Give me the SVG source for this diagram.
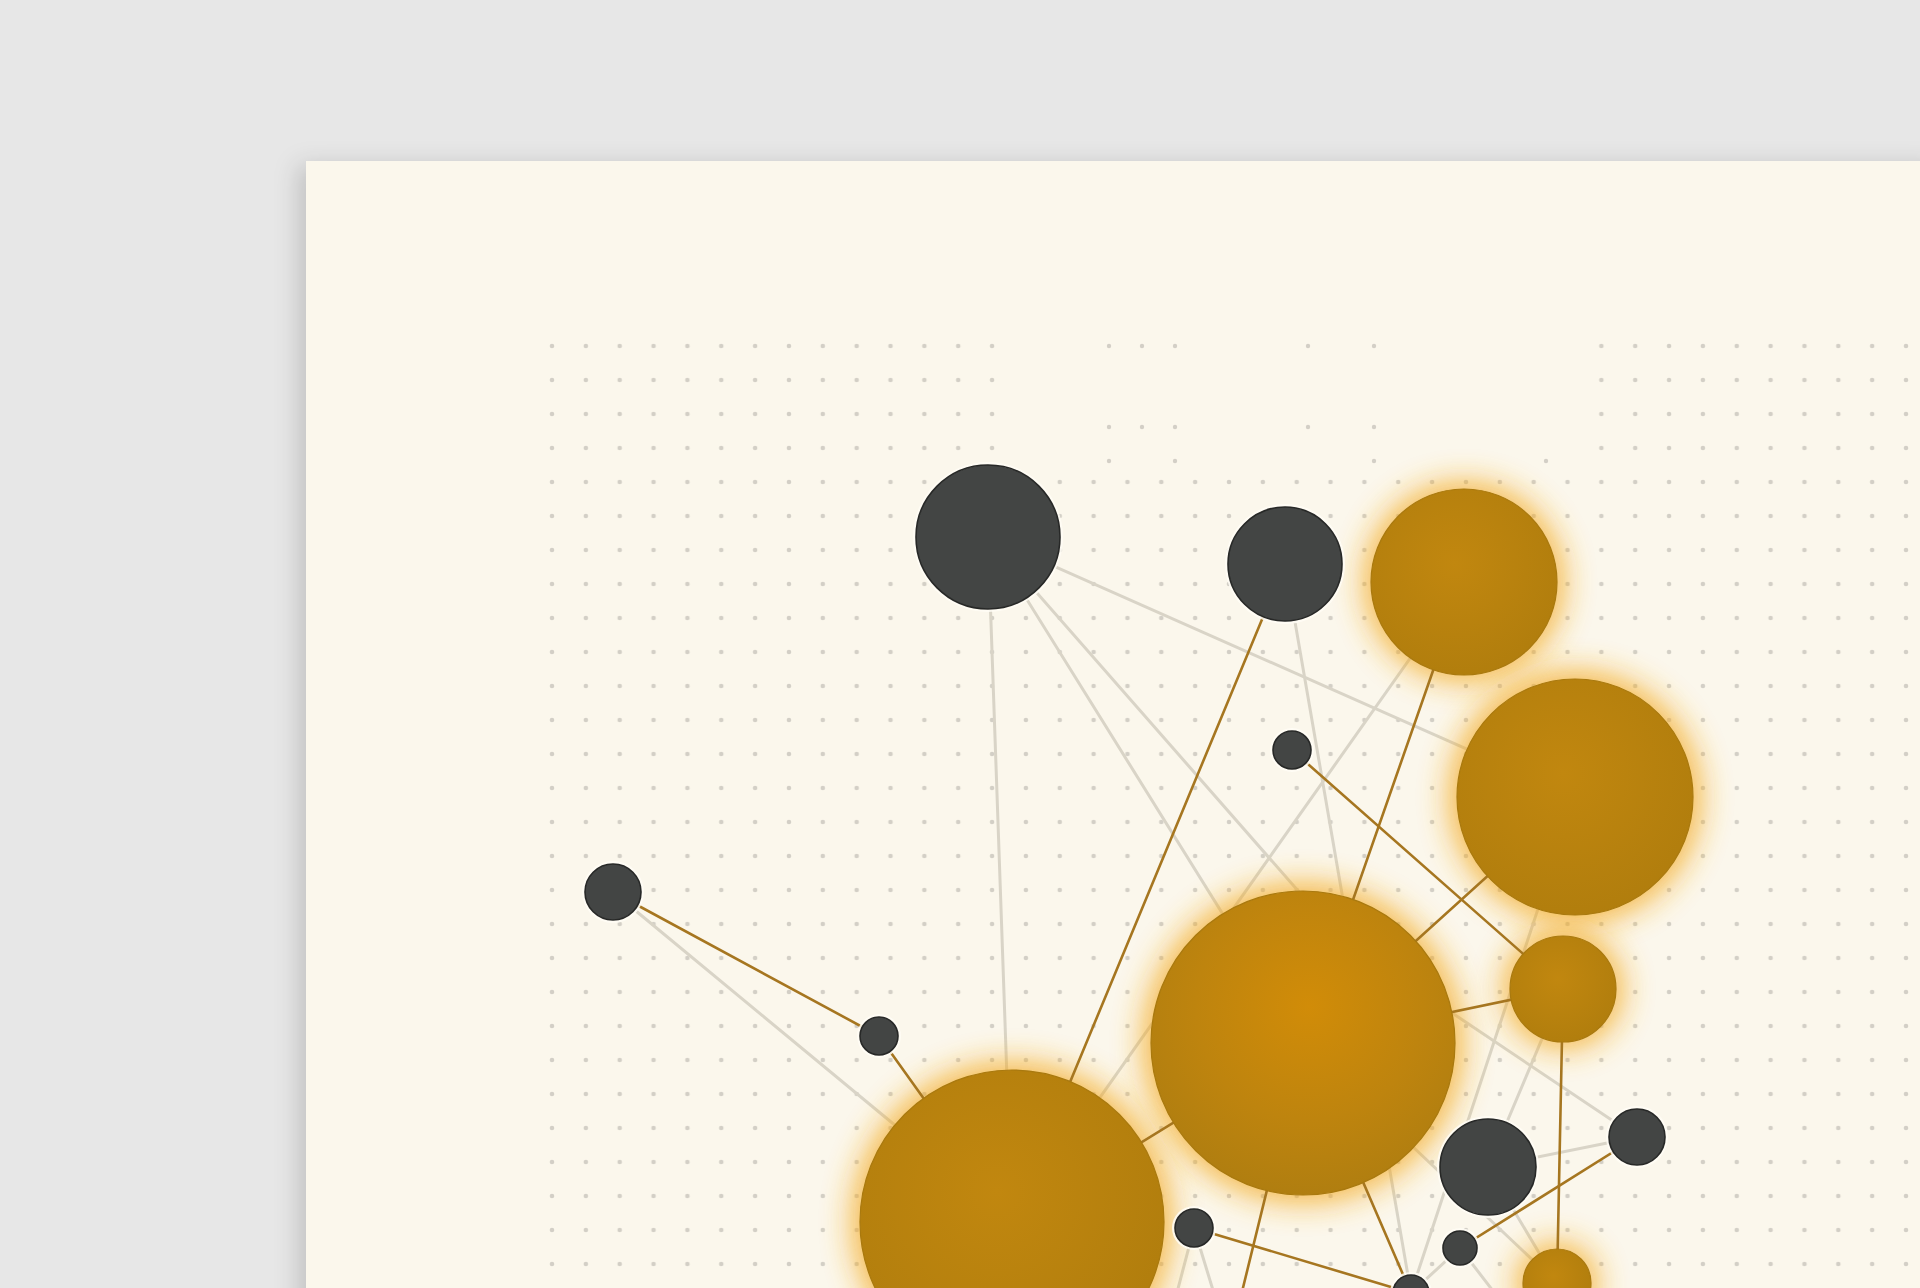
<svg xmlns="http://www.w3.org/2000/svg" width="1920" height="1288" viewBox="0 0 1920 1288">
<defs>
<style>
.gl{stroke:#A67620;stroke-width:2.6;stroke-linecap:round;fill:none}
.ll{stroke:#D9D4C7;stroke-width:3;stroke-linecap:round;fill:none}
.dk{fill:#434544;stroke:#272827;stroke-width:1.6}
.rim{fill:#FFFDF6;opacity:.85}
.au{fill:url(#gold);stroke:#A9790F;stroke-width:1.2}
.glow{fill:#F3A81C;opacity:.85;filter:url(#blur)}
.dot{fill:#D3CFC6}
</style>
<filter id="shadow" x="-5%" y="-5%" width="110%" height="110%">
<feDropShadow dx="-8" dy="4" stdDeviation="12" flood-color="#000" flood-opacity="0.16"/>
</filter>
<filter id="blur" x="-50%" y="-50%" width="200%" height="200%">
<feGaussianBlur stdDeviation="16"/>
</filter>
<radialGradient id="gold" cx="0.45" cy="0.4" r="0.65">
<stop offset="0" stop-color="#C1870F"/>
<stop offset="1" stop-color="#B07D0D"/>
</radialGradient>
<radialGradient id="goldC" cx="0.52" cy="0.38" r="0.62">
<stop offset="0" stop-color="#D18C08"/>
<stop offset="0.6" stop-color="#BE840E"/>
<stop offset="1" stop-color="#B07E10"/>
</radialGradient>
<pattern id="grid" patternUnits="userSpaceOnUse" x="535.1" y="329" width="33.85" height="34">
<circle cx="16.9" cy="17" r="2.3" class="dot"/>
</pattern>
<mask id="gmask">
<rect x="0" y="0" width="1920" height="1288" fill="#fff"/>
<rect x="1005" y="330" width="585" height="145" fill="#000"/>
<rect x="1520" y="330" width="70" height="110" fill="#000"/>
</mask>
</defs>

<rect x="0" y="0" width="1920" height="1288" fill="#E7E7E7"/>
<rect id="paper" x="306" y="161" width="1640" height="1160" fill="#FBF7EC" filter="url(#shadow)"/>

<g id="dotgrid">
<rect x="535" y="329" width="1385" height="959" fill="url(#grid)" mask="url(#gmask)"/>
<circle class="dot" cx="1109" cy="346" r="2.2"/><circle class="dot" cx="1142" cy="346" r="2.2"/><circle class="dot" cx="1175" cy="346" r="2.2"/>
<circle class="dot" cx="1308" cy="346" r="2.2"/><circle class="dot" cx="1374" cy="346" r="2.2"/>
<circle class="dot" cx="1109" cy="427" r="2.2"/><circle class="dot" cx="1142" cy="427" r="2.2"/><circle class="dot" cx="1175" cy="427" r="2.2"/>
<circle class="dot" cx="1308" cy="427" r="2.2"/><circle class="dot" cx="1374" cy="427" r="2.2"/>
<circle class="dot" cx="1109" cy="461" r="2.2"/><circle class="dot" cx="1175" cy="461" r="2.2"/><circle class="dot" cx="1374" cy="461" r="2.2"/>
<circle class="dot" cx="1546" cy="461" r="2.2"/>
</g>

<g id="connectors">
<g id="light-links">
<line class="ll" x1="988" y1="537" x2="1012" y2="1222"/>
<line class="ll" x1="988" y1="537" x2="1575" y2="797"/>
<line class="ll" x1="988" y1="537" x2="1303" y2="1043"/>
<line class="ll" x1="988" y1="537" x2="1420" y2="1030"/>
<line class="ll" x1="1285" y1="564" x2="1411" y2="1293"/>
<line class="ll" x1="1464" y1="582" x2="1012" y2="1222"/>
<line class="ll" x1="613" y1="892" x2="1012" y2="1222"/>
<line class="ll" x1="1575" y1="797" x2="1411" y2="1293"/>
<line class="ll" x1="1563" y1="989" x2="1488" y2="1167"/>
<line class="ll" x1="1488" y1="1167" x2="1637" y2="1137"/>
<line class="ll" x1="1400" y1="978" x2="1637" y2="1137"/>
<line class="ll" x1="1303" y1="1043" x2="1557" y2="1283"/>
<line class="ll" x1="1488" y1="1167" x2="1557" y2="1283"/>
<line class="ll" x1="1194" y1="1228" x2="1175" y2="1300"/>
<line class="ll" x1="1194" y1="1228" x2="1216" y2="1300"/>
<line class="ll" x1="1460" y1="1248" x2="1411" y2="1293"/>
<line class="ll" x1="1460" y1="1248" x2="1500" y2="1300"/>
</g>
<g id="glows">
<circle class="glow" cx="1464" cy="582" r="99"/>
<circle class="glow" cx="1575" cy="797" r="125"/>
<circle class="glow" cx="1303" cy="1043" r="159"/>
<circle class="glow" cx="1563" cy="989" r="59"/>
<circle class="glow" cx="1557" cy="1283" r="40"/>
<circle class="glow" cx="1012" cy="1222" r="159"/>
</g>
<g id="gold-links">
<line class="gl" x1="613" y1="892" x2="879" y2="1036"/>
<line class="gl" x1="879" y1="1036" x2="1012" y2="1222"/>
<line class="gl" x1="1285" y1="564" x2="1012" y2="1222"/>
<line class="gl" x1="1464" y1="582" x2="1303" y2="1043"/>
<line class="gl" x1="1292" y1="750" x2="1563" y2="989"/>
<line class="gl" x1="1575" y1="797" x2="1303" y2="1043"/>
<line class="gl" x1="1303" y1="1043" x2="1563" y2="989"/>
<line class="gl" x1="1303" y1="1043" x2="1012" y2="1222"/>
<line class="gl" x1="1563" y1="989" x2="1557" y2="1283"/>
<line class="gl" x1="1637" y1="1137" x2="1460" y2="1248"/>
<line class="gl" x1="1194" y1="1228" x2="1411" y2="1293"/>
<line class="gl" x1="1303" y1="1043" x2="1240" y2="1300"/>
<line class="gl" x1="1303" y1="1043" x2="1411" y2="1293"/>
</g>
</g>

<g id="n3"><circle class="au" cx="1464" cy="582" r="93"/></g>
<g id="n4"><circle class="au" cx="1575" cy="797" r="118"/></g>
<g id="n6"><circle cx="1303" cy="1043" r="152" fill="url(#goldC)" stroke="#A9790F" stroke-width="1.2"/></g>
<g id="n7"><circle class="au" cx="1563" cy="989" r="53"/></g>
<g id="n13"><circle class="au" cx="1557" cy="1283" r="34"/></g>
<g id="n14"><circle class="au" cx="1012" cy="1222" r="152"/></g>

<g id="n1"><circle class="rim" cx="988" cy="537" r="75"/><circle class="dk" cx="988" cy="537" r="72"/></g>
<g id="n2"><circle class="rim" cx="1285" cy="564" r="60"/><circle class="dk" cx="1285" cy="564" r="57"/></g>
<g id="n5"><circle class="rim" cx="1292" cy="750" r="22"/><circle class="dk" cx="1292" cy="750" r="19"/></g>
<g id="n8"><circle class="rim" cx="1488" cy="1167" r="51"/><circle class="dk" cx="1488" cy="1167" r="48"/></g>
<g id="n9"><circle class="rim" cx="1637" cy="1137" r="31"/><circle class="dk" cx="1637" cy="1137" r="28"/></g>
<g id="n10"><circle class="rim" cx="1460" cy="1248" r="20"/><circle class="dk" cx="1460" cy="1248" r="17"/></g>
<g id="n11"><circle class="rim" cx="1194" cy="1228" r="22"/><circle class="dk" cx="1194" cy="1228" r="19"/></g>
<g id="n12"><circle class="rim" cx="1411" cy="1293" r="21"/><circle class="dk" cx="1411" cy="1293" r="18"/></g>
<g id="n15"><circle class="rim" cx="613" cy="892" r="31"/><circle class="dk" cx="613" cy="892" r="28"/></g>
<g id="n16"><circle class="rim" cx="879" cy="1036" r="22"/><circle class="dk" cx="879" cy="1036" r="19"/></g>
</svg>
